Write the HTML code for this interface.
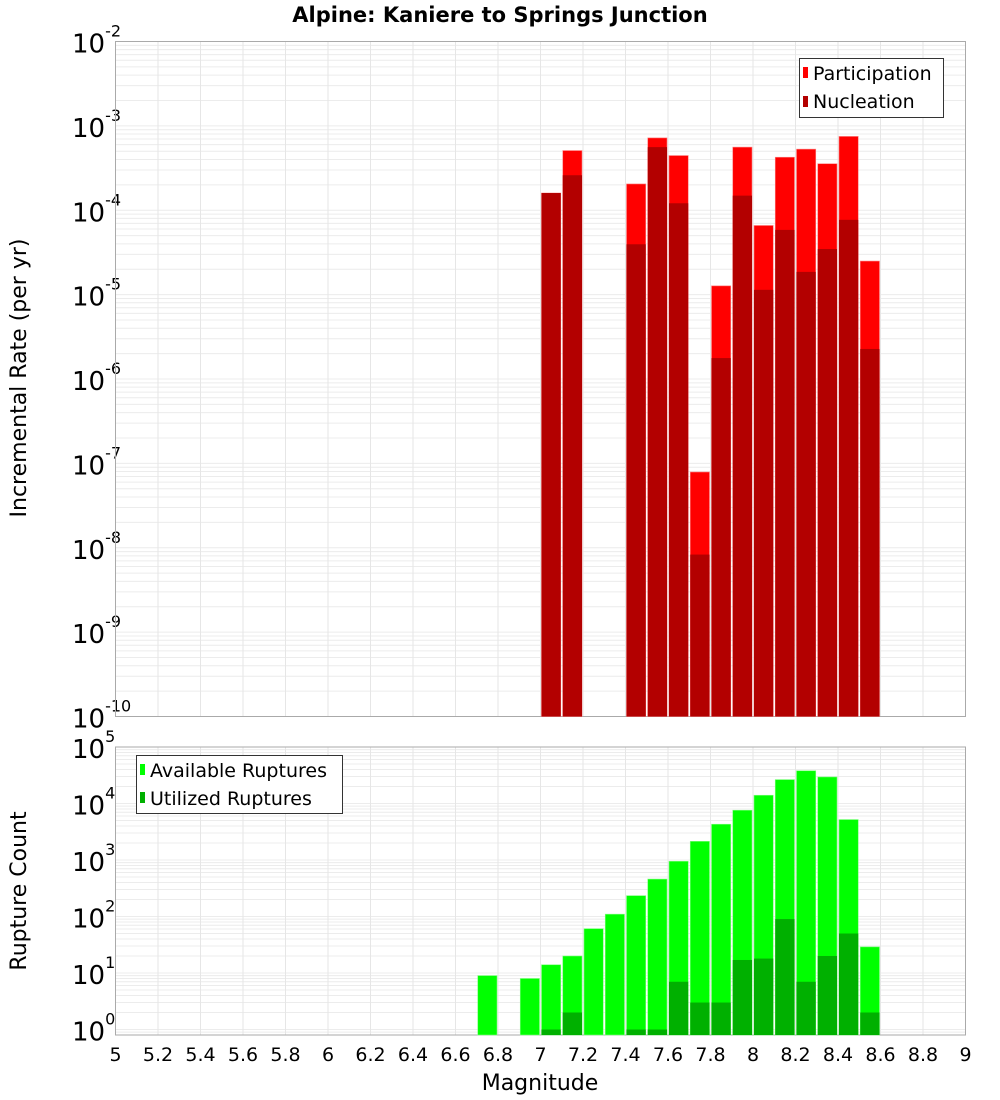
<!DOCTYPE html>
<html><head><meta charset="utf-8"><style>
html,body{margin:0;padding:0;background:#fff;}
svg{display:block;font-family:"DejaVu Sans","Liberation Sans",sans-serif;}
</style></head><body>
<svg id="chart" width="1000" height="1100" viewBox="0 0 1000 1100" xmlns="http://www.w3.org/2000/svg">
<text x="500" y="22" text-anchor="middle" font-size="21" font-weight="bold">Alpine: Kaniere to Springs Junction</text>
<g id="top"></g><g id="bot"></g>
</svg>
<script>
const mags = [6.75,6.95,7.05,7.15,7.25,7.35,7.45,7.55,7.65,7.75,7.85,7.95,8.05,8.15,8.25,8.35,8.45,8.55];
const partRate = [0,0,1.6e-4,5.1e-4,0,0,2.05e-4,7.2e-4,4.45e-4,7.9e-8,1.27e-5,5.6e-4,6.6e-5,4.25e-4,5.3e-4,3.56e-4,7.5e-4,2.5e-5];
const nuclRate = [0,0,1.6e-4,2.6e-4,0,0,3.95e-5,5.6e-4,1.21e-4,8.3e-9,1.77e-6,1.49e-4,1.14e-5,5.85e-5,1.86e-5,3.47e-5,7.7e-5,2.27e-6];
const availCount = [9,8,14,20,61,110,234,460,950,2140,4300,7600,14000,26500,38000,29500,5200,29];
const usedCount = [0,0,1,2,0,0,1,1,7,3,3,17,18,90,7,20,50,2];
const xTicks = ["5","5.2","5.4","5.6","5.8","6","6.2","6.4","6.6","6.8","7","7.2","7.4","7.6","7.8","8","8.2","8.4","8.6","8.8","9"];
const topDecades = [-2,-3,-4,-5,-6,-7,-8,-9,-10];
const botDecades = [5,4,3,2,1,0];

const NS="http://www.w3.org/2000/svg";
const L=115.5,R=965.5;
const xs=m=>L+(m-5)/4*(R-L);
function mk(tag,attrs,parent,txt){const e=document.createElementNS(NS,tag);for(const k in attrs)e.setAttribute(k,attrs[k]);if(txt!==undefined)e.textContent=txt;parent.appendChild(e);return e;}

function panel(g,top,bottom,yOf,decMin,decMax,decades,isTop){
  // background grid
  const grid=mk('g',{},g);
  
  
  for(let d=decMin;d<decMax;d++){
    for(let k=1;k<10;k++){const y=yOf(k*Math.pow(10,d));if(y>=top&&y<=bottom)mk('line',{x1:L,x2:R,y1:y,y2:y,stroke:'#ececec','stroke-width':1},grid);}
  }
  xTicks.forEach(t=>{const x=xs(parseFloat(t));mk('line',{x1:x,x2:x,y1:top,y2:bottom,stroke:'#e6e6e6','stroke-width':1},grid);});
  // y tick labels
  decades.forEach(d=>{
    const y=yOf(Math.pow(10,d));
    const t=mk('text',{x:isTop?100:100,y:y+11,'text-anchor':'end','font-size':26},g);
    
    
    mk('tspan',{},t,'10');
    mk('tspan',{dy:-16,'font-size':16},t,String(d));
    // position: "10" ends before superscript
    t.setAttribute('text-anchor','start');
    t.setAttribute('x', String(d).length>1?72:72);
  });
  const frame=mk('rect',{x:L,y:top,width:R-L,height:bottom-top,fill:'none',stroke:'#aaaaaa','stroke-width':1},g);
  
  
}

// top panel
const gT=document.getElementById('top');
const tTop=41.5,tBot=716.5;
const yT=v=>tTop+(-2-Math.log10(v))*(tBot-tTop)/8;
panel(gT,tTop,tBot,yT,-10,-2,topDecades,true);
mags.forEach((m,i)=>{
  const x0=xs(m-0.05)+1,x1=xs(m+0.05)-1;
  if(partRate[i]>0){const y=Math.max(tTop,yT(partRate[i]));const r=mk('rect',{x:x0,y:y,width:x1-x0,height:tBot-y,fill:'#ff0000',stroke:'#ff8080','stroke-width':0.6},gT);
    
    }
  if(nuclRate[i]>0){const y=Math.max(tTop,yT(nuclRate[i]));const r=mk('rect',{x:x0,y:y,width:x1-x0,height:tBot-y,fill:'#b30000'},gT);
    
    }
});
const yt=mk('text',{x:26,y:378,'text-anchor':'middle','font-size':22,transform:'rotate(-90 26 378)'},gT,'Incremental Rate (per yr)');


const lg1=mk('g',{},gT);


mk('rect',{x:799.5,y:58.5,width:144,height:59,fill:'#fff',stroke:'#333','stroke-width':1},lg1);
mk('rect',{x:803,y:67,width:5,height:11,fill:'#ff0000'},lg1);
mk('text',{x:813,y:80,'font-size':19},lg1,'Participation');
mk('rect',{x:803,y:96,width:5,height:11,fill:'#b30000'},lg1);
mk('text',{x:813,y:108,'font-size':19},lg1,'Nucleation');

// bottom panel
const gB=document.getElementById('bot');
const bTop=747,bBot=1035,dec=56.5;
const yB=v=>bTop+(5-Math.log10(v))*dec;
panel(gB,bTop,bBot,v=>yB(v),-1,5,botDecades,false);
mags.forEach((m,i)=>{
  const x0=xs(m-0.05)+1,x1=xs(m+0.05)-1;
  if(availCount[i]>0){const y=yB(availCount[i]);const r=mk('rect',{x:x0,y:y,width:x1-x0,height:bBot-y,fill:'#00ff00',stroke:'#80ff80','stroke-width':0.6},gB);
    
    }
  if(usedCount[i]>0){const y=yB(usedCount[i]);const r=mk('rect',{x:x0,y:y,width:x1-x0,height:bBot-y,fill:'#00b000'},gB);
    
    }
});
const yt2=mk('text',{x:26,y:891,'text-anchor':'middle','font-size':22,transform:'rotate(-90 26 891)'},gB,'Rupture Count');


const lg2=mk('g',{},gB);


mk('rect',{x:136.5,y:755.5,width:206,height:58,fill:'#fff',stroke:'#333','stroke-width':1},lg2);
mk('rect',{x:140,y:764,width:5,height:11,fill:'#00ff00'},lg2);
mk('text',{x:150,y:777,'font-size':19},lg2,'Available Ruptures');
mk('rect',{x:140,y:792,width:5,height:11,fill:'#00b000'},lg2);
mk('text',{x:150,y:805,'font-size':19},lg2,'Utilized Ruptures');

// x axis
xTicks.forEach(t=>{
  const e=mk('text',{x:xs(parseFloat(t)),y:1061,'text-anchor':'middle','font-size':19},gB,t);
  
  
});
const xt=mk('text',{x:540,y:1090,'text-anchor':'middle','font-size':22},gB,'Magnitude');


</script>
</body></html>
